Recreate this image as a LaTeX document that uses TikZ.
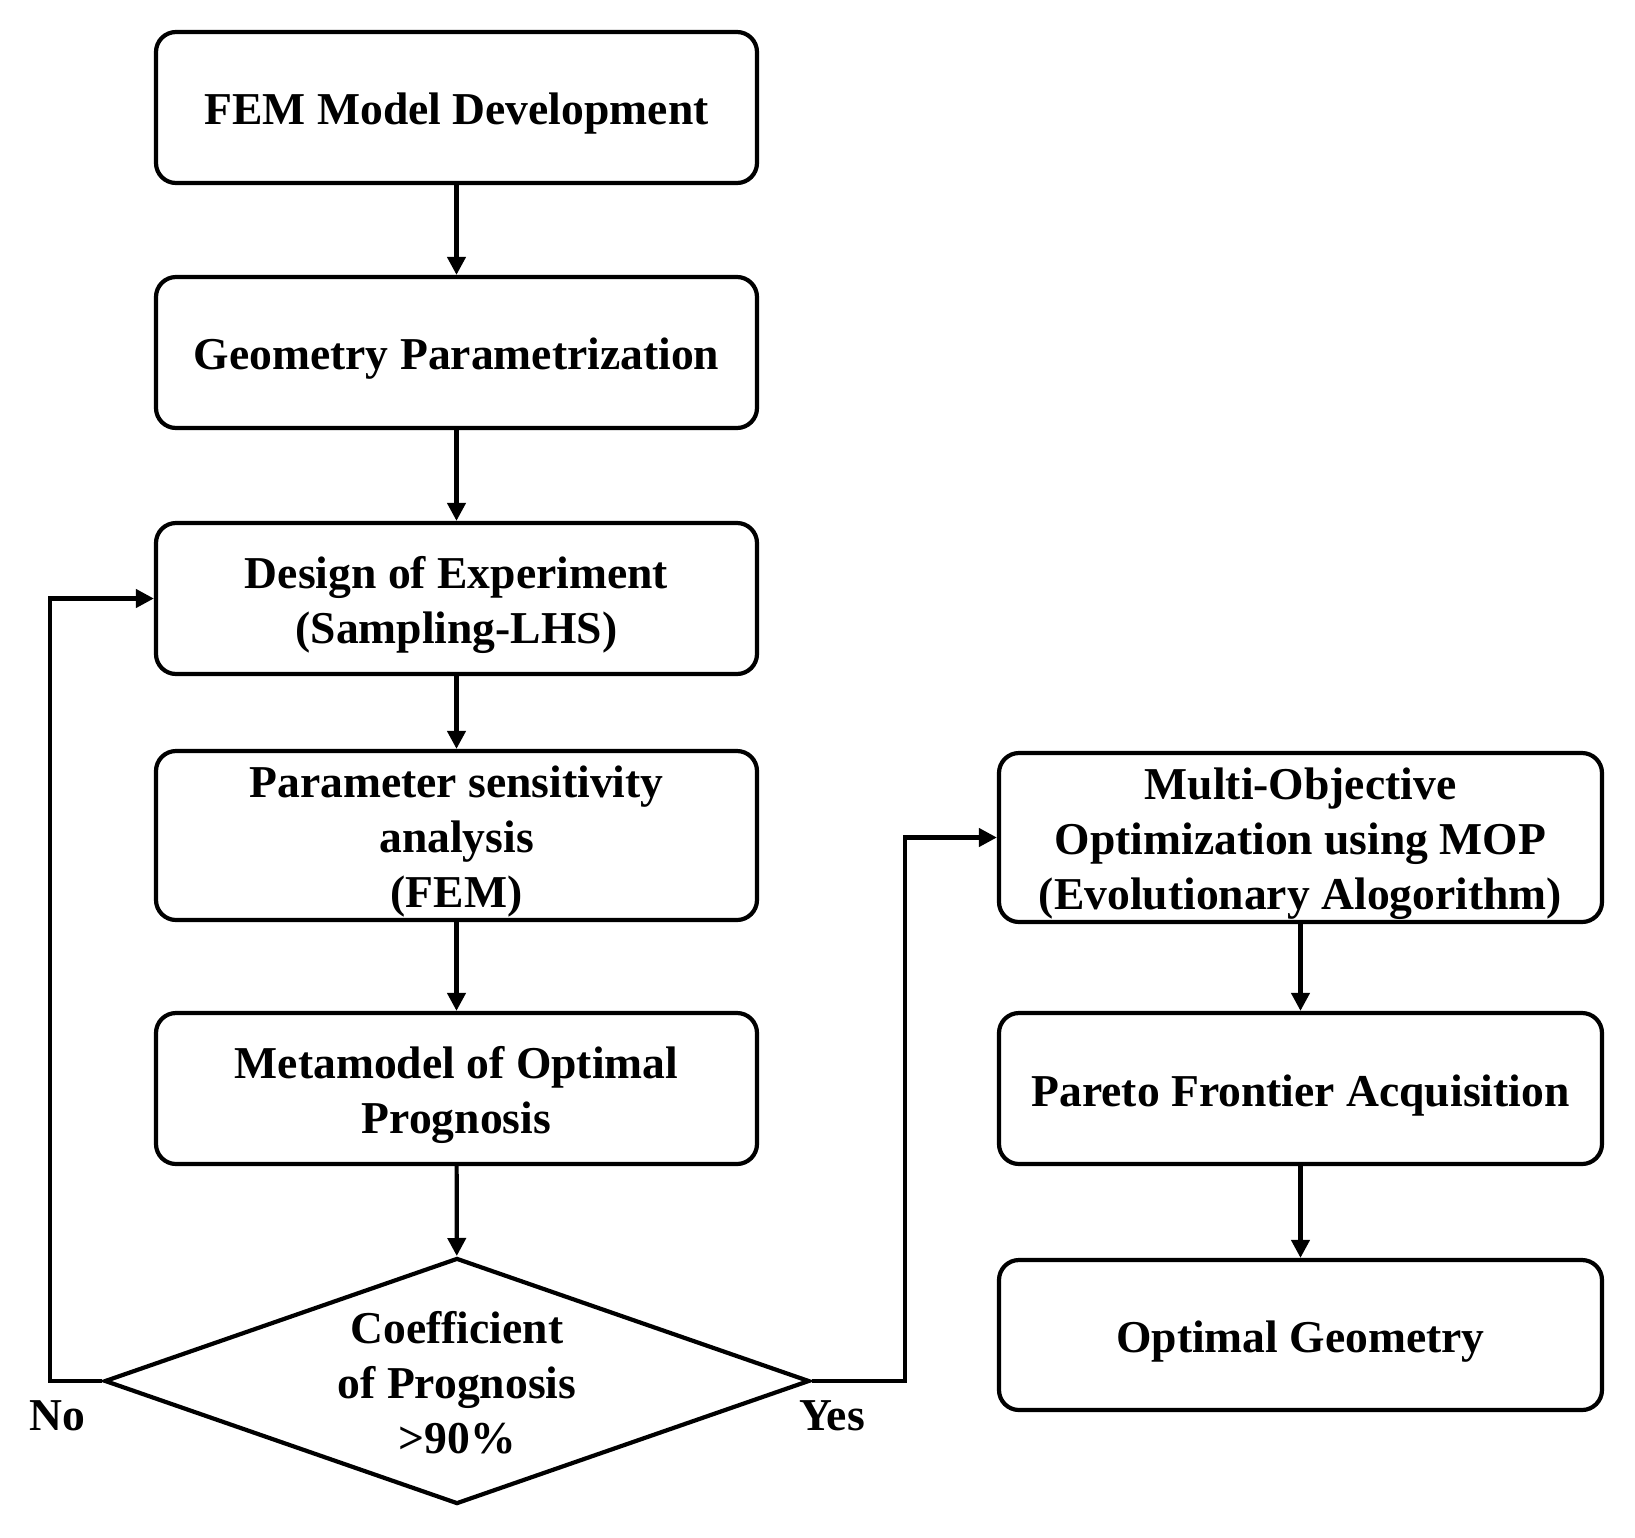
\documentclass[tikz,border=0pt]{standalone}
\usepackage{fontspec}
\setmainfont{Liberation Serif}
\usetikzlibrary{arrows.meta,shapes.geometric}
\begin{document}
\begin{tikzpicture}[x=0.5pt,y=-0.5pt,
  box/.style={draw,line width=2.1pt,rounded corners=10pt,minimum width=300.5pt,minimum height=75.5pt,inner sep=0pt},
  decision/.style={draw,line width=2.1pt,diamond,minimum width=352.5pt,minimum height=123pt,inner sep=0pt},
  txt/.style={align=center,inner sep=0pt,font=\fontsize{22.8}{27.5}\selectfont\bfseries},
  arr/.style={line width=2.1pt,-{Triangle[length=9pt,width=9pt]}}]
\useasboundingbox (0,0) rectangle (1635,1538);
\node[box] (b1) at (456.5,107.5) {};
\node[box] (b2) at (456.5,352.5) {};
\node[box] (b3) at (456.5,598.5) {};
\node[box,minimum height=84.5pt] (b4) at (456.5,835.5) {};
\node[box] (b5) at (456.5,1088.5) {};
\node[decision] (d) at (457,1381) {};
\node[box,minimum width=301.5pt,minimum height=84.5pt] (r1) at (1300.5,837.5) {};
\node[box,minimum width=301.5pt] (r2) at (1300.5,1088.5) {};
\node[box,minimum width=301.5pt,minimum height=75pt] (r3) at (1300.5,1335) {};
\node[txt] (t1) at ([yshift=-3.1pt]b1.center) {FEM Model Development};
\node[txt] (t2) at ([yshift=-3.1pt]b2.center) {Geometry Parametrization};
\node[txt] (t3) at ([yshift=-3.1pt]b3.center) {Design of Experiment\\(Sampling-LHS)};
\node[txt] (t4) at ([yshift=-3.1pt]b4.center) {Parameter sensitivity\\analysis\\(FEM)};
\node[txt] (t5) at ([yshift=-3.1pt]b5.center) {Metamodel of Optimal\\Prognosis};
\node[txt] (dt) at ([yshift=-1pt]d.center) {Coefficient\\of Prognosis\\>90\%};
\node[txt] (tr1) at ([yshift=-3.1pt]r1.center) {Multi-Objective\\Optimization using MOP\\(Evolutionary Alogorithm)};
\node[txt] (tr2) at ([yshift=-3.4pt]r2.center) {Pareto Frontier Acquisition};
\node[txt] (tr3) at ([yshift=-3.4pt]r3.center) {Optimal Geometry};
\node[txt] (no) at (57,1416) {No};
\node[txt] (yes) at (832,1416) {Yes};
\draw[arr] (b1) -- (b2);
\draw[arr] (b2) -- (b3);
\draw[arr] (b3) -- (b4);
\draw[arr] (b4) -- (b5);
\draw[arr] (b5) -- (d);
\draw[arr] (r1) -- (r2);
\draw[arr] (r2) -- (r3);
\draw[arr] (d.west) -- (50,1381) |- (b3.west);
\draw[arr] (d.east) -- (905,1381) |- (r1.west);
\end{tikzpicture}
\end{document}
